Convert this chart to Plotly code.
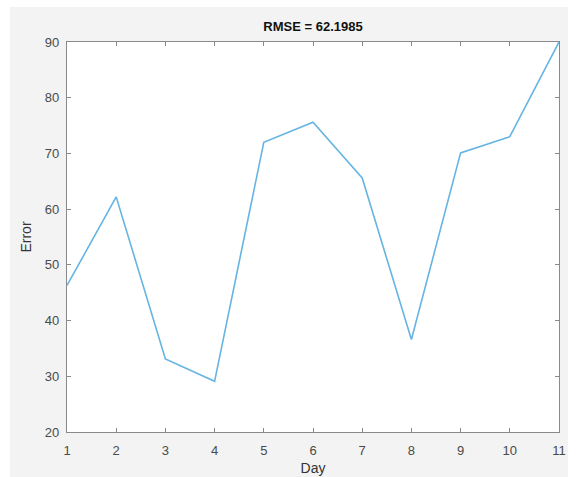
import plotly.graph_objects as go

days = [1, 2, 3, 4, 5, 6, 7, 8, 9, 10, 11]
errors = [46.3, 62.2, 33.1, 29.1, 72.0, 75.6, 65.6, 36.6, 70.1, 73.0, 90.0]
x_ticks = list(range(1, 12))
y_ticks = [20, 30, 40, 50, 60, 70, 80, 90]
title_text = "RMSE = 62.1985"

W, H = 579, 477
L, R, T, B = 67, 20, 42, 45
pw, ph = W - L - R, H - T - B

def px2paper_x(px):
    return (px - L) / pw

def px2paper_y(py):
    return (H - B - py) / ph

fig = go.Figure()
fig.add_trace(go.Scatter(x=days, y=errors, mode="lines",
                         line=dict(color="#66b4e2", width=1.6),
                         showlegend=False, hoverinfo="skip"))

fig.add_shape(type="rect", xref="paper", yref="paper", layer="below",
              x0=px2paper_x(10), x1=px2paper_x(568),
              y0=px2paper_y(485), y1=px2paper_y(7),
              fillcolor="#f3f3f3", line=dict(width=0))
fig.add_shape(type="rect", xref="paper", yref="paper", layer="below",
              x0=0, x1=1, y0=0, y1=1,
              fillcolor="white", line=dict(width=0))

font = "Liberation Sans, Arial, sans-serif"
axis_common = dict(showline=True, linecolor="#8a8a8a", linewidth=1.2, mirror="ticks",
                   ticks="inside", ticklen=4, tickcolor="#8a8a8a", showgrid=False,
                   zeroline=False, automargin=False,
                   tickfont=dict(family=font, size=13, color="#4a4a4a"))

fig.update_xaxes(range=[1, 11], tickvals=x_ticks, ticklabelstandoff=6,
                 title=dict(text="Day", font=dict(family=font, size=14, color="#333333"), standoff=6),
                 **axis_common)
fig.update_yaxes(range=[20, 90], tickvals=y_ticks, ticklabelstandoff=4,
                 title=dict(text="Error", font=dict(family=font, size=14, color="#333333"), standoff=9),
                 **axis_common)

fig.update_layout(
    width=W, height=H,
    margin=dict(l=L, r=R, t=T, b=B, autoexpand=False),
    paper_bgcolor="white", plot_bgcolor="white",
    title=dict(text="<b>" + title_text + "</b>", x=px2paper_x(313), xref="paper", xanchor="center",
               y=1 - 26 / H, yanchor="middle",
               font=dict(family=font, size=13, color="#111111")),
)

fig.write_html("out.html")
